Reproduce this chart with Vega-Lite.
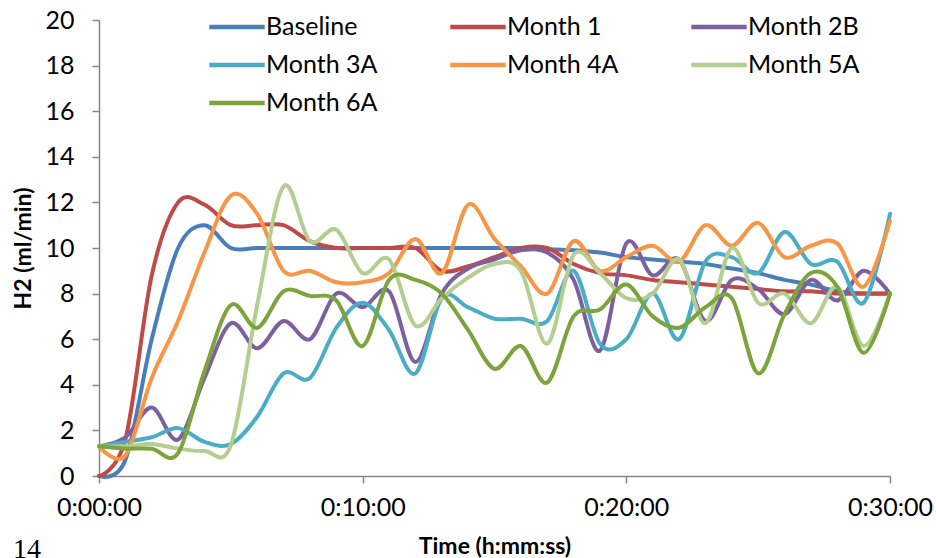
{
  "$schema": "https://vega.github.io/schema/vega-lite/v6.json",
  "width": 791,
  "height": 456,
  "autosize": {"type": "none"},
  "padding": {"left": 99, "top": 20, "right": 46, "bottom": 82},
  "background": "white",
  "config": {
    "view": {"stroke": null},
    "font": "Lato"
  },
  "title": {
    "text": "14",
    "orient": "bottom",
    "anchor": "start",
    "frame": "bounds",
    "font": "Liberation Serif",
    "fontSize": 28,
    "fontWeight": "normal",
    "color": "#000000",
    "baseline": "top",
    "offset": -22,
    "dx": 0
  },
  "data": {
    "values": [
      {"t": 0, "Baseline": 0, "Month 1": 0, "Month 2B": 1.3, "Month 3A": 1.3, "Month 4A": 1.3, "Month 5A": 1.3, "Month 6A": 1.3},
      {"t": 1, "Baseline": 0.7, "Month 1": 1.6, "Month 2B": 1.7, "Month 3A": 1.5, "Month 4A": 0.9, "Month 5A": 1.3, "Month 6A": 1.2},
      {"t": 2, "Baseline": 6.0, "Month 1": 8.8, "Month 2B": 3.0, "Month 3A": 1.7, "Month 4A": 4.3, "Month 5A": 1.4, "Month 6A": 1.2},
      {"t": 3, "Baseline": 10.0, "Month 1": 12.0, "Month 2B": 1.6, "Month 3A": 2.1, "Month 4A": 6.8, "Month 5A": 1.2, "Month 6A": 1.0},
      {"t": 4, "Baseline": 11.0, "Month 1": 11.9, "Month 2B": 4.3, "Month 3A": 1.5, "Month 4A": 9.8, "Month 5A": 1.1, "Month 6A": 4.6},
      {"t": 5, "Baseline": 10.0, "Month 1": 11.0, "Month 2B": 6.7, "Month 3A": 1.4, "Month 4A": 12.3, "Month 5A": 1.35, "Month 6A": 7.5},
      {"t": 6, "Baseline": 10.0, "Month 1": 11.0, "Month 2B": 5.6, "Month 3A": 2.6, "Month 4A": 11.5, "Month 5A": 7.5, "Month 6A": 6.5},
      {"t": 7, "Baseline": 10.0, "Month 1": 11.0, "Month 2B": 6.8, "Month 3A": 4.5, "Month 4A": 9.0, "Month 5A": 12.7, "Month 6A": 8.1},
      {"t": 8, "Baseline": 10.0, "Month 1": 10.3, "Month 2B": 6.0, "Month 3A": 4.3, "Month 4A": 9.0, "Month 5A": 10.3, "Month 6A": 7.9},
      {"t": 9, "Baseline": 10.0, "Month 1": 10.0, "Month 2B": 8.0, "Month 3A": 6.5, "Month 4A": 8.5, "Month 5A": 10.8, "Month 6A": 7.7},
      {"t": 10, "Baseline": 10.0, "Month 1": 10.0, "Month 2B": 7.4, "Month 3A": 7.6, "Month 4A": 8.5, "Month 5A": 8.9, "Month 6A": 5.7},
      {"t": 11, "Baseline": 10.0, "Month 1": 10.0, "Month 2B": 8.1, "Month 3A": 6.4, "Month 4A": 8.9, "Month 5A": 9.5, "Month 6A": 8.6},
      {"t": 12, "Baseline": 10.0, "Month 1": 10.0, "Month 2B": 5.0, "Month 3A": 4.5, "Month 4A": 10.4, "Month 5A": 6.6, "Month 6A": 8.6},
      {"t": 13, "Baseline": 10.0, "Month 1": 9.0, "Month 2B": 8.0, "Month 3A": 7.8, "Month 4A": 8.9, "Month 5A": 7.8, "Month 6A": 8.0},
      {"t": 14, "Baseline": 10.0, "Month 1": 9.2, "Month 2B": 9.1, "Month 3A": 7.4, "Month 4A": 11.9, "Month 5A": 8.7, "Month 6A": 6.4},
      {"t": 15, "Baseline": 10.0, "Month 1": 9.6, "Month 2B": 9.5, "Month 3A": 6.9, "Month 4A": 10.4, "Month 5A": 9.3, "Month 6A": 4.7},
      {"t": 16, "Baseline": 10.0, "Month 1": 10.0, "Month 2B": 9.9, "Month 3A": 6.9, "Month 4A": 9.2, "Month 5A": 9.0, "Month 6A": 5.7},
      {"t": 17, "Baseline": 9.95, "Month 1": 10.0, "Month 2B": 9.8, "Month 3A": 6.8, "Month 4A": 8.0, "Month 5A": 5.8, "Month 6A": 4.1},
      {"t": 18, "Baseline": 9.9, "Month 1": 9.3, "Month 2B": 8.6, "Month 3A": 9.0, "Month 4A": 10.3, "Month 5A": 9.7, "Month 6A": 7.0},
      {"t": 19, "Baseline": 9.8, "Month 1": 8.9, "Month 2B": 5.5, "Month 3A": 5.8, "Month 4A": 9.0, "Month 5A": 8.9, "Month 6A": 7.3},
      {"t": 20, "Baseline": 9.6, "Month 1": 8.8, "Month 2B": 10.2, "Month 3A": 6.0, "Month 4A": 9.6, "Month 5A": 7.8, "Month 6A": 8.4},
      {"t": 21, "Baseline": 9.5, "Month 1": 8.6, "Month 2B": 8.8, "Month 3A": 8.0, "Month 4A": 10.1, "Month 5A": 8.0, "Month 6A": 7.0},
      {"t": 22, "Baseline": 9.4, "Month 1": 8.5, "Month 2B": 9.5, "Month 3A": 6.0, "Month 4A": 9.4, "Month 5A": 9.5, "Month 6A": 6.5},
      {"t": 23, "Baseline": 9.3, "Month 1": 8.4, "Month 2B": 6.8, "Month 3A": 9.4, "Month 4A": 11.0, "Month 5A": 6.7, "Month 6A": 7.4},
      {"t": 24, "Baseline": 9.1, "Month 1": 8.3, "Month 2B": 8.6, "Month 3A": 9.6, "Month 4A": 10.1, "Month 5A": 10.0, "Month 6A": 7.8},
      {"t": 25, "Baseline": 8.9, "Month 1": 8.2, "Month 2B": 8.2, "Month 3A": 8.9, "Month 4A": 11.1, "Month 5A": 7.6, "Month 6A": 4.5},
      {"t": 26, "Baseline": 8.6, "Month 1": 8.1, "Month 2B": 7.1, "Month 3A": 10.7, "Month 4A": 9.6, "Month 5A": 8.0, "Month 6A": 7.1},
      {"t": 27, "Baseline": 8.4, "Month 1": 8.1, "Month 2B": 8.6, "Month 3A": 9.3, "Month 4A": 10.1, "Month 5A": 6.7, "Month 6A": 8.9},
      {"t": 28, "Baseline": 8.1, "Month 1": 8.0, "Month 2B": 7.7, "Month 3A": 9.4, "Month 4A": 10.2, "Month 5A": 8.3, "Month 6A": 8.3},
      {"t": 29, "Baseline": 8.0, "Month 1": 8.0, "Month 2B": 9.0, "Month 3A": 7.6, "Month 4A": 8.3, "Month 5A": 5.7, "Month 6A": 5.4},
      {"t": 30, "Baseline": 8.0, "Month 1": 8.0, "Month 2B": 8.0, "Month 3A": 11.5, "Month 4A": 11.2, "Month 5A": 8.0, "Month 6A": 8.0}
    ]
  },
  "transform": [
    {"fold": ["Baseline", "Month 1", "Month 2B", "Month 3A", "Month 4A", "Month 5A", "Month 6A"], "as": ["series", "v"]}
  ],
  "mark": {"type": "line", "interpolate": "cardinal", "strokeWidth": 4, "strokeCap": "round", "strokeJoin": "round"},
  "encoding": {
    "x": {
      "field": "t",
      "type": "quantitative",
      "scale": {"domain": [0, 30], "nice": false, "zero": false},
      "axis": {
        "values": [0, 10, 20, 30],
        "labelExpr": "'0:' + (datum.value < 10 ? '0' : '') + datum.value + ':00'",
        "title": "Time (h:mm:ss)",
        "grid": false,
        "domainColor": "#868686",
        "domainWidth": 1.5,
        "tickColor": "#868686",
        "tickSize": 7,
        "tickWidth": 1.5,
        "labelFontSize": 25,
        "labelColor": "#000000",
        "labelPadding": 12,
        "labelFlush": false,
        "titleFontSize": 23,
        "titleFontWeight": "bold",
        "titleColor": "#000000",
        "titlePadding": 15
      }
    },
    "y": {
      "field": "v",
      "type": "quantitative",
      "scale": {"domain": [0, 20], "nice": false},
      "axis": {
        "values": [0, 2, 4, 6, 8, 10, 12, 14, 16, 18, 20],
        "title": "H2 (ml/min)",
        "grid": false,
        "domainColor": "#868686",
        "domainWidth": 1.5,
        "tickColor": "#868686",
        "tickSize": 7,
        "tickWidth": 1.5,
        "labelFontSize": 25,
        "labelColor": "#000000",
        "labelPadding": 18,
        "titleFontSize": 23,
        "titleFontWeight": "bold",
        "titleColor": "#000000",
        "titlePadding": 9
      }
    },
    "color": {
      "field": "series",
      "type": "nominal",
      "scale": {
        "domain": ["Baseline", "Month 1", "Month 2B", "Month 3A", "Month 4A", "Month 5A", "Month 6A"],
        "range": ["#4A7EBB", "#BE4B48", "#7D60A0", "#4BACC6", "#F79646", "#B3CE8E", "#7BA43C"]
      },
      "legend": {
        "title": null,
        "orient": "none",
        "legendX": 118,
        "legendY": -13,
        "direction": "horizontal",
        "columns": 3,
        "symbolType": "M-1.6,0H1.6",
        "symbolSize": 1200,
        "symbolStrokeWidth": 4.5,
        "labelFontSize": 25,
        "labelColor": "#000000",
        "labelOffset": 9,
        "columnPadding": 63,
        "rowPadding": 5,
        "labelLimit": 250
      }
    }
  }
}
